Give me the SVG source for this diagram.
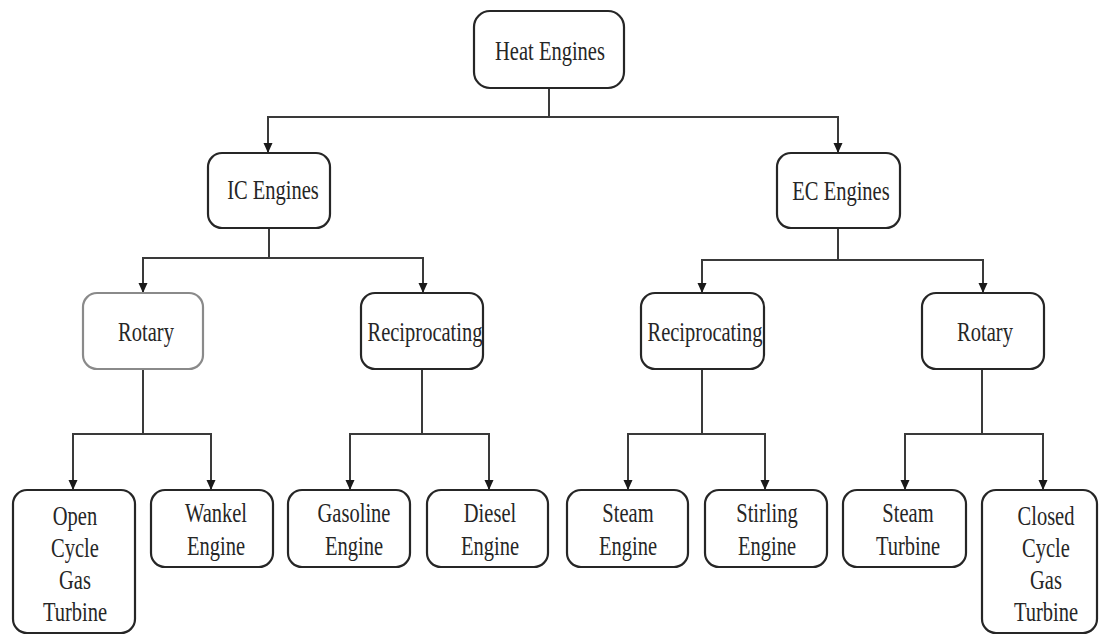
<svg xmlns="http://www.w3.org/2000/svg" width="1099" height="635" viewBox="0 0 1099 635">
<style>
.box{fill:#fff;stroke:#262626;stroke-width:2.2}
.faint{stroke:#8a8a8a}
.lbl{font-family:"Liberation Serif","Times New Roman",serif;font-size:27px;fill:#262626;text-anchor:middle}
.con{fill:none;stroke:#3a3a3a;stroke-width:2}
</style>
<defs>
<marker id="arr" markerUnits="userSpaceOnUse" markerWidth="10" markerHeight="11" refX="10" refY="5" orient="auto">
<path d="M0,0.5 L10,5 L0,9.5 z" fill="#1a1a1a"/>
</marker>
</defs>
<g id="connectors">
<path class="con" d="M549,88 V117 H268 V153" marker-end="url(#arr)"/>
<path class="con" d="M549,117 H838 V153" marker-end="url(#arr)"/>
<path class="con" d="M269,228 V258 H143 V293" marker-end="url(#arr)"/>
<path class="con" d="M269,258 H423 V293" marker-end="url(#arr)"/>
<path class="con" d="M838,228 V260 H702 V293" marker-end="url(#arr)"/>
<path class="con" d="M838,260 H983 V293" marker-end="url(#arr)"/>
<path class="con" d="M143,369 V434 H73 V490" marker-end="url(#arr)"/>
<path class="con" d="M143,434 H211 V490" marker-end="url(#arr)"/>
<path class="con" d="M422,369 V434 H350 V490" marker-end="url(#arr)"/>
<path class="con" d="M422,434 H489 V490" marker-end="url(#arr)"/>
<path class="con" d="M702,369 V434 H628 V490" marker-end="url(#arr)"/>
<path class="con" d="M702,434 H765 V490" marker-end="url(#arr)"/>
<path class="con" d="M982,369 V434 H905 V490" marker-end="url(#arr)"/>
<path class="con" d="M982,434 H1043 V490" marker-end="url(#arr)"/>
</g>
<g id="heat-engines">
<rect class="box" x="474" y="11" width="150" height="77" rx="16"/>
<text class="lbl" transform="translate(550,60) scale(0.76,1)">Heat Engines</text>
</g>
<g id="ic-engines">
<rect class="box" x="208" y="153" width="122" height="75" rx="14"/>
<text class="lbl" transform="translate(273,199) scale(0.76,1)">IC Engines</text>
</g>
<g id="ec-engines">
<rect class="box" x="777" y="153" width="123" height="75" rx="14"/>
<text class="lbl" transform="translate(841,200) scale(0.76,1)">EC Engines</text>
</g>
<g id="ic-rotary">
<rect class="box faint" x="83" y="293" width="120" height="76" rx="14"/>
<text class="lbl" transform="translate(146,341) scale(0.76,1)">Rotary</text>
</g>
<g id="ic-reciprocating">
<rect class="box" x="361" y="293" width="122" height="76" rx="14"/>
<text class="lbl" transform="translate(425,341) scale(0.76,1)">Reciprocating</text>
</g>
<g id="ec-reciprocating">
<rect class="box" x="641" y="293" width="123" height="76" rx="14"/>
<text class="lbl" transform="translate(705,341) scale(0.76,1)">Reciprocating</text>
</g>
<g id="ec-rotary">
<rect class="box" x="922" y="293" width="122" height="76" rx="14"/>
<text class="lbl" transform="translate(985,341) scale(0.76,1)">Rotary</text>
</g>
<g id="open-cycle-gas-turbine">
<rect class="box" x="13" y="490" width="122" height="143" rx="14"/>
<text class="lbl" transform="translate(75,525) scale(0.76,1)"><tspan x="0" y="0">Open</tspan><tspan x="0" y="32">Cycle</tspan><tspan x="0" y="64">Gas</tspan><tspan x="0" y="96">Turbine</tspan></text>
</g>
<g id="wankel-engine">
<rect class="box" x="151" y="490" width="122" height="77" rx="14"/>
<text class="lbl" transform="translate(216,522) scale(0.76,1)"><tspan x="0" y="0">Wankel</tspan><tspan x="0" y="33">Engine</tspan></text>
</g>
<g id="gasoline-engine">
<rect class="box" x="288" y="490" width="122" height="77" rx="14"/>
<text class="lbl" transform="translate(354,522) scale(0.76,1)"><tspan x="0" y="0">Gasoline</tspan><tspan x="0" y="33">Engine</tspan></text>
</g>
<g id="diesel-engine">
<rect class="box" x="427" y="490" width="121" height="77" rx="14"/>
<text class="lbl" transform="translate(490,522) scale(0.76,1)"><tspan x="0" y="0">Diesel</tspan><tspan x="0" y="33">Engine</tspan></text>
</g>
<g id="steam-engine">
<rect class="box" x="567" y="490" width="121" height="77" rx="14"/>
<text class="lbl" transform="translate(628,522) scale(0.76,1)"><tspan x="0" y="0">Steam</tspan><tspan x="0" y="33">Engine</tspan></text>
</g>
<g id="stirling-engine">
<rect class="box" x="705" y="490" width="122" height="77" rx="14"/>
<text class="lbl" transform="translate(767,522) scale(0.76,1)"><tspan x="0" y="0">Stirling</tspan><tspan x="0" y="33">Engine</tspan></text>
</g>
<g id="steam-turbine">
<rect class="box" x="843" y="490" width="123" height="77" rx="14"/>
<text class="lbl" transform="translate(908,522) scale(0.76,1)"><tspan x="0" y="0">Steam</tspan><tspan x="0" y="33">Turbine</tspan></text>
</g>
<g id="closed-cycle-gas-turbine">
<rect class="box" x="982" y="490" width="115" height="143" rx="14"/>
<text class="lbl" transform="translate(1046,525) scale(0.76,1)"><tspan x="0" y="0">Closed</tspan><tspan x="0" y="32">Cycle</tspan><tspan x="0" y="64">Gas</tspan><tspan x="0" y="96">Turbine</tspan></text>
</g>
</svg>
